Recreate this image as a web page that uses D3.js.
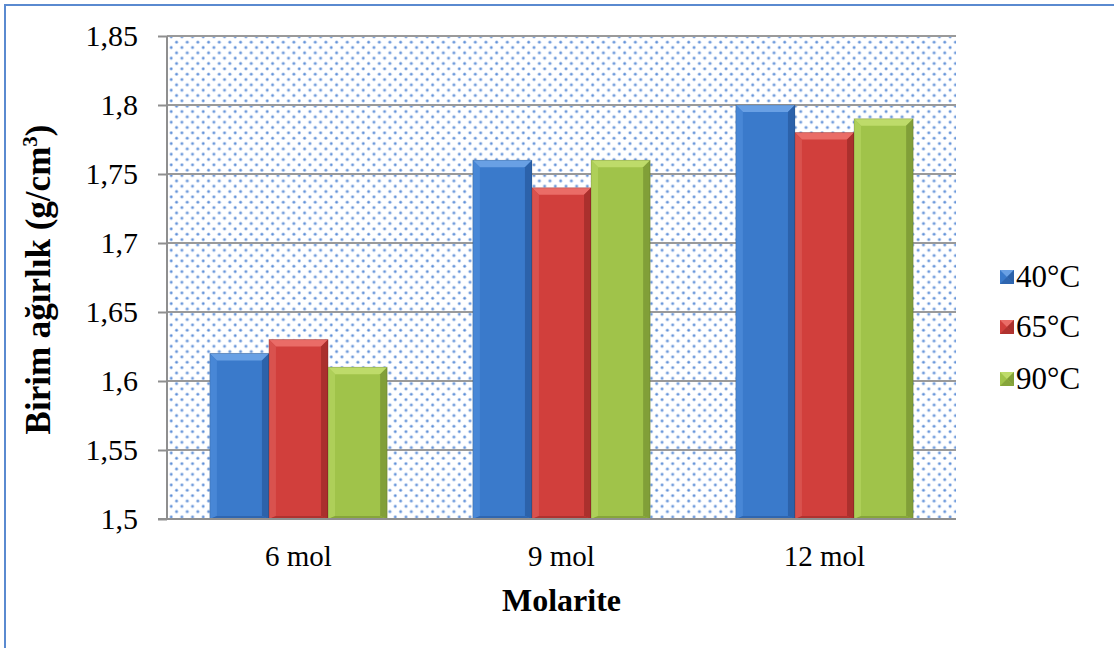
<!DOCTYPE html>
<html>
<head>
<meta charset="utf-8">
<script src="https://cdn.jsdelivr.net/npm/d3@7"></script>
<style>
  html, body { margin: 0; padding: 0; background: #fff; }
  svg { display: block; }
  text { font-family: "Liberation Serif", "Times New Roman", serif; fill: #000; }
</style>
</head>
<body>
<svg id="chart" width="1114" height="648"></svg>
<script>
// Categories, series and axis ticks
const categories = ["6 mol", "9 mol", "12 mol"];
const seriesNames = ["40°C", "65°C", "90°C"];
const values40 = [1.62, 1.76, 1.80];
const values65 = [1.63, 1.74, 1.78];
const values90 = [1.61, 1.76, 1.79];
const yTicks = [1.5, 1.55, 1.6, 1.65, 1.7, 1.75, 1.8, 1.85];
const yTitle = "Birim ağırlık (g/cm";
const xTitle = "Molarite";

const seriesValues = [values40, values65, values90];

// Bevelled bar palette: face, top, left, right, bottom
const palettes = [
  { face: "#3a7acb", top: "#69a0e4", left: "#4887d6", right: "#2c62aa", bottom: "#2f66b0" },
  { face: "#d13f3c", top: "#ea6c67", left: "#d9524e", right: "#aa302d", bottom: "#b0322f" },
  { face: "#a0c34a", top: "#bedb6a", left: "#aecf59", right: "#819f38", bottom: "#86a53a" }
];

const svg = d3.select("#chart");
const margin = { left: 167, right: 158, top: 36, bottom: 129 };
const W = 1114, H = 648;
const plotW = W - margin.left - margin.right;
const plotH = H - margin.top - margin.bottom;
const serif = "'Liberation Serif', 'Times New Roman', serif";

// Outer frame (top and left edges)
svg.append("line").attr("x1", 5).attr("x2", W).attr("y1", 5).attr("y2", 5)
  .attr("stroke", "#5a8ad0").attr("stroke-width", 2);
svg.append("line").attr("x1", 5).attr("x2", 5).attr("y1", 4).attr("y2", H)
  .attr("stroke", "#5a8ad0").attr("stroke-width", 2);

const defs = svg.append("defs");
const pat = defs.append("pattern")
  .attr("id", "dots").attr("patternUnits", "userSpaceOnUse")
  .attr("width", 10.67).attr("height", 10.67)
  .attr("x", margin.left).attr("y", margin.top);
pat.append("rect").attr("width", 10.67).attr("height", 10.67).attr("fill", "#ffffff");
[[2.6, 2.2], [7.93, 7.53]].forEach(([cx, cy]) => {
  pat.append("circle").attr("cx", cx).attr("cy", cy).attr("r", 1.7).attr("fill", "#a6c1ea");
  pat.append("circle").attr("cx", cx).attr("cy", cy).attr("r", 1.0).attr("fill", "#5b8dd6");
});

const g = svg.append("g").attr("transform", `translate(${margin.left},${margin.top})`);

const y = d3.scaleLinear().domain([1.5, 1.85]).range([plotH, 0]);
const x0 = d3.scaleBand().domain(categories).range([0, plotW]).paddingInner(0).paddingOuter(0);
const gapRatio = 1.45;
const barW = x0.bandwidth() / (seriesNames.length + gapRatio);
const groupOffset = (x0.bandwidth() - barW * seriesNames.length) / 2;

// Plot background
g.append("rect").attr("width", plotW).attr("height", plotH).attr("fill", "url(#dots)");

// Gridlines and y axis
const yAxis = d3.axisLeft(y).tickValues(yTicks).tickSize(9)
  .tickFormat(d => d3.format(".2~f")(d).replace(".", ","));
const yG = g.append("g").call(yAxis);
yG.select(".domain").remove();
yG.selectAll(".tick line").attr("stroke", "#8f8f8f").attr("stroke-width", 2);
yG.selectAll(".tick text").attr("x", -29).attr("font-size", 30).style("font-family", serif);

g.append("g").selectAll("line").data(yTicks).join("line")
  .attr("x1", 0).attr("x2", plotW)
  .attr("y1", d => y(d)).attr("y2", d => y(d))
  .attr("stroke", "#9a9a9a").attr("stroke-width", 2);

g.append("line").attr("x1", 0).attr("x2", 0).attr("y1", 0).attr("y2", plotH)
  .attr("stroke", "#8f8f8f").attr("stroke-width", 2);

// Bars with bevelled edges
const bars = [];
categories.forEach((c, ci) => {
  seriesValues.forEach((vals, si) => {
    bars.push({ cat: c, si, v: vals[ci] });
  });
});

const bevel = 7;
const barG = g.append("g");
bars.forEach(b => {
  const p = palettes[b.si];
  const bx = x0(b.cat) + groupOffset + b.si * barW;
  const by = y(b.v);
  const bw = barW;
  const bh = y(1.5) - by;
  const gb = barG.append("g");
  gb.append("rect").attr("x", bx).attr("y", by).attr("width", bw).attr("height", bh).attr("fill", p.face);
  const poly = (pts, fill) => gb.append("polygon").attr("points", pts.map(q => q.join(",")).join(" ")).attr("fill", fill);
  poly([[bx, by], [bx + bw, by], [bx + bw - bevel, by + bevel], [bx + bevel, by + bevel]], p.top);
  poly([[bx, by], [bx + bevel, by + bevel], [bx + bevel, by + bh - 3], [bx, by + bh]], p.left);
  poly([[bx + bw, by], [bx + bw, by + bh], [bx + bw - bevel, by + bh - 3], [bx + bw - bevel, by + bevel]], p.right);
  poly([[bx, by + bh], [bx + bevel, by + bh - 3], [bx + bw - bevel, by + bh - 3], [bx + bw, by + bh]], p.bottom);
  gb.append("rect").attr("x", bx).attr("y", by).attr("width", bw).attr("height", bh)
    .attr("fill", "none").attr("stroke", "rgba(0,0,0,0.15)").attr("stroke-width", 1);
});

// Category axis
g.append("line").attr("x1", -9).attr("x2", plotW).attr("y1", plotH).attr("y2", plotH)
  .attr("stroke", "#8f8f8f").attr("stroke-width", 2);
const xAxis = d3.axisBottom(x0).tickSize(0);
const xG = g.append("g").attr("transform", `translate(0,${plotH})`).call(xAxis);
xG.select(".domain").remove();
xG.selectAll(".tick text").attr("y", 26).attr("font-size", 29).style("font-family", serif);

// Axis titles
svg.append("text").attr("x", margin.left + plotW / 2).attr("y", 611)
  .attr("text-anchor", "middle").attr("font-size", 32).attr("font-weight", "bold").text(xTitle);

const yt = svg.append("text")
  .attr("transform", `translate(50,${margin.top + plotH / 2 + 2}) rotate(-90)`)
  .attr("text-anchor", "middle").attr("font-size", 35).attr("font-weight", "bold");
yt.append("tspan").text(yTitle);
yt.append("tspan").attr("font-size", 21).attr("dy", -13).text("3");
yt.append("tspan").attr("dy", 13).text(")");

// Legend
const legend = svg.append("g").attr("transform", "translate(1000,0)");
const legY = [277, 327, 379];
seriesNames.forEach((name, i) => {
  const p = palettes[i];
  const s = 14, ly = legY[i] - s / 2, lb = s / 2;
  const lg = legend.append("g");
  lg.append("rect").attr("x", 0).attr("y", ly).attr("width", s).attr("height", s).attr("fill", p.face);
  lg.append("polygon").attr("points", `0,${ly} ${s},${ly} ${lb},${ly + lb}`).attr("fill", p.top);
  lg.append("polygon").attr("points", `${s},${ly} ${s},${ly + s} ${lb},${ly + lb}`).attr("fill", p.right);
  lg.append("polygon").attr("points", `0,${ly + s} ${s},${ly + s} ${lb},${ly + lb}`).attr("fill", p.bottom);
  lg.append("text").attr("x", 16).attr("y", legY[i] + 10).attr("font-size", 31).text(name);
});
</script>
</body>
</html>
